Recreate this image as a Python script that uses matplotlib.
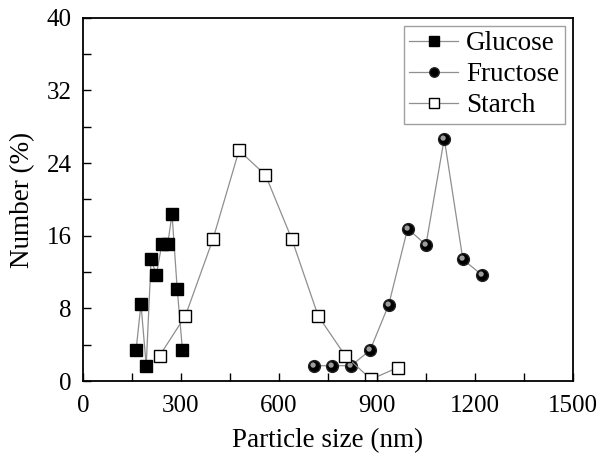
import matplotlib
matplotlib.use("Agg")
import matplotlib.pyplot as plt
from matplotlib.markers import MarkerStyle
from matplotlib.transforms import Affine2D
from matplotlib.ticker import MultipleLocator

# particle size (nm) vs number (%)
glucose_x = [163, 178, 194, 209, 225, 242, 260, 273, 289, 305]
glucose_y = [3.4, 8.5, 1.7, 13.4, 11.7, 15.1, 15.1, 18.4, 10.1, 3.4]

fructose_x = [706, 764, 821, 879, 936, 994, 1050, 1106, 1163, 1221]
fructose_y = [1.7, 1.7, 1.7, 3.4, 8.4, 16.8, 15.0, 26.7, 13.4, 11.7]

starch_x = [235, 314, 398, 478, 559, 640, 720, 803, 882, 964]
starch_y = [2.8, 7.2, 15.6, 25.4, 22.7, 15.6, 7.2, 2.8, 0.2, 1.5]

plt.rcParams["font.family"] = ["Liberation Serif", "DejaVu Serif"]

fig = plt.figure(figsize=(6, 4.57), dpi=100)
ax = fig.add_axes([0.138, 0.166, 0.817, 0.795])

line_kw = dict(color="#8f8f8f", linewidth=0.9, markersize=8.5)
ax.plot(glucose_x, glucose_y, marker="s", markerfacecolor="black",
        markeredgecolor="black", label="Glucose", **line_kw)
ax.plot(fructose_x, fructose_y, marker="o", markerfacecolor="black",
        markeredgecolor="#222222", label="Fructose", **line_kw)
# small highlight so the balls look shaded like the original
hl = MarkerStyle("o", transform=Affine2D().scale(0.45).translate(-0.12, 0.12))
ax.plot(fructose_x, fructose_y, linestyle="none", marker=hl, markersize=8.5,
        markerfacecolor="#9c9c9c", markeredgecolor="none")
ax.plot(starch_x, starch_y, marker="s", markerfacecolor="white",
        markeredgecolor="black", markeredgewidth=1.0, label="Starch", **line_kw)

ax.set_xlim(0, 1500)
ax.set_ylim(0, 40)
ax.xaxis.set_major_locator(MultipleLocator(300))
ax.xaxis.set_minor_locator(MultipleLocator(150))
ax.yaxis.set_major_locator(MultipleLocator(8))
ax.yaxis.set_minor_locator(MultipleLocator(4))
ax.tick_params(which="both", direction="in", length=6, width=1.0,
               labelsize=18, top=False, right=False)
ax.tick_params(axis="x", pad=10)
ax.tick_params(axis="y", pad=8)
for s in ax.spines.values():
    s.set_linewidth(1.3)

ax.set_xlabel("Particle size (nm)", fontsize=19.5, labelpad=8)
ax.set_ylabel("Number (%)", fontsize=19.5, labelpad=8)

ax.legend(loc="upper right", fontsize=19.5, frameon=True, fancybox=False,
          edgecolor="#888888", handlelength=1.8, handletextpad=0.3,
          borderpad=0.2, labelspacing=0.22, borderaxespad=0.3,
          markerscale=0.8)

plt.savefig("out.png", dpi=100)
